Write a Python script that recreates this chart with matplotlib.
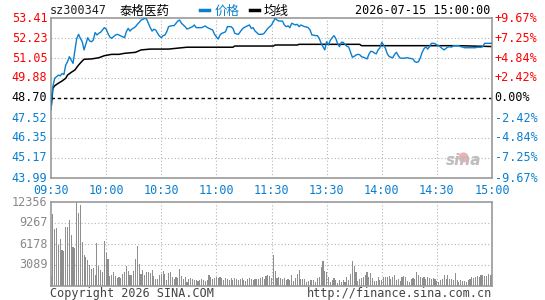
import numpy as np
import matplotlib
matplotlib.use("Agg")
import matplotlib.pyplot as plt

plt.rcParams['font.family'] = ['DejaVu Sans Mono', 'Noto Sans CJK SC']

# ---- data ----
prev_close = 48.70
price_ticks = [53.41, 52.23, 51.05, 49.88, 48.70, 47.52, 46.35, 45.17, 43.99]
pct_labels = ['+9.67%', '+7.25%', '+4.84%', '+2.42%', '0.00%',
              '-2.42%', '-4.84%', '-7.25%', '-9.67%']
time_labels = ['09:30', '10:00', '10:30', '11:00', '11:30',
               '13:30', '14:00', '14:30', '15:00']
vol_ticks = [3089, 6178, 9267, 12356]

prices = [
    48.30, 49.37, 49.86, 49.95, 50.05, 50.00, 50.14, 50.08, 50.64, 50.84,
    51.13, 50.94, 50.74, 51.50, 52.20, 52.45, 52.21, 52.01, 51.53, 51.90,
    52.25, 52.06, 52.01, 52.11, 52.55, 52.41, 52.51, 52.57, 52.70, 52.84,
    52.76, 52.50, 52.30, 52.21, 52.31, 52.40, 52.45, 52.41, 52.35, 52.31,
    52.25, 52.60, 52.80, 52.64, 52.76, 52.82, 52.90, 53.04, 53.15, 53.29,
    53.33, 53.39, 53.35, 53.10, 52.85, 52.64, 52.75, 52.70, 52.51, 52.35,
    52.25, 52.37, 52.41, 52.60, 52.90, 52.94, 52.96, 52.96, 53.10, 53.23,
    53.29, 53.10, 53.00, 52.90, 52.76, 52.80, 52.85, 52.90, 53.00, 52.84,
    52.84, 52.84, 52.84, 52.90, 52.94, 52.85, 52.80, 52.75, 52.70, 52.45,
    52.30, 52.17, 52.41, 52.51, 52.55, 52.60, 52.90, 52.90, 52.90, 52.80,
    52.51, 52.47, 52.45, 52.60, 52.75, 52.84, 52.90, 52.95, 53.00, 52.80,
    52.84, 52.65, 52.55, 52.45, 52.45, 52.45, 52.51, 52.65, 52.80, 52.90,
    53.00, 53.19, 53.39, 53.29, 53.23, 53.23, 53.23, 53.00, 52.90, 52.95,
    52.84, 53.10, 53.05, 53.00, 53.04, 52.90, 53.00, 52.95, 52.90, 52.88,
    52.84, 52.70, 52.41, 52.40, 52.37, 52.37, 52.21, 51.92, 51.72, 51.53,
    52.01, 51.82, 52.10, 52.25, 52.37, 52.20, 51.90, 51.72, 51.98, 51.98,
    51.85, 51.75, 51.70, 51.40, 51.10, 51.15, 51.23, 51.27, 51.25, 51.13,
    51.10, 51.05, 51.00, 51.27, 51.45, 51.43, 51.35, 51.30, 51.53, 51.65,
    51.98, 51.82, 51.63, 51.30, 51.15, 51.10, 51.07, 51.27, 51.39, 51.19,
    51.06, 51.04, 51.04, 51.06, 51.07, 51.04, 51.02, 51.00, 50.84, 50.80,
    50.84, 51.07, 51.39, 51.60, 51.72, 51.58, 51.72, 51.92, 51.92, 51.90,
    51.82, 51.78, 51.70, 51.60, 51.53, 51.63, 51.70, 51.72, 51.69, 51.78,
    51.78, 51.78, 51.78, 51.72, 51.70, 51.66, 51.66, 51.66, 51.66, 51.66,
    51.66, 51.66, 51.69, 51.69, 51.69, 51.72, 51.92, 51.92, 51.92, 51.92,
    51.92,
]

avg_min = [0, 1, 2, 4, 6, 8, 9, 11, 13, 15, 17, 18, 22, 26, 29, 33, 37, 40,
           46, 49, 54, 64, 74, 99, 100, 121, 122, 134, 135, 168, 169, 222, 240]
avg_val = [48.00, 49.27, 49.42, 49.57, 49.70, 49.86, 50.05, 50.21, 50.35,
           50.64, 50.88, 50.98, 51.00, 51.07, 51.19, 51.27, 51.27, 51.33,
           51.39, 51.53, 51.58, 51.58, 51.69, 51.69, 51.76, 51.76, 51.82,
           51.82, 51.86, 51.86, 51.78, 51.78, 51.73]

volumes = [
    1470, 10590, 8385, 8530, 6030, 6910, 5300, 5150, 8680, 8680,
    9710, 7500, 5740, 5590, 12356, 10740, 11915, 6470, 4560, 4270,
    3825, 3090, 2500, 2650, 1620, 6330, 2940, 2350, 2060, 6620,
    4850, 3970, 1470, 1620, 2060, 1470, 1180, 1320, 1180, 1765,
    2060, 2940, 2210, 1620, 1620, 2210, 3970, 5880, 3240, 1765,
    2350, 1620, 2060, 2060, 1910, 2350, 1470, 1030, 1030, 1620,
    1765, 2210, 1765, 880,
    1960, 2110, 1280, 985, 1280, 1130, 2500, 1470, 985, 1280,
    630, 985, 1130, 985, 880, 880, 780, 880, 985, 880,
    780, 880, 1620, 1280, 985, 1130, 1280, 1130, 1280, 1130,
    880, 1130, 985, 880, 1130, 880, 1130, 985, 880, 985,
    1130, 880, 780, 985, 1130, 985, 880, 985, 985, 985,
    1130, 1280, 985, 1470, 1620, 1470, 1130,
    4560, 2200, 1130, 1280, 1130, 985, 1130, 880, 985, 880,
    1620, 780, 1130, 1765, 2350, 985, 985, 985, 630, 780,
    880, 880, 880, 630, 1130, 1280, 2750, 3720, 2250, 2110,
    1280, 630, 880, 1130, 880, 490, 880, 630, 880, 630,
    1280, 880, 1765, 3720, 2940, 2110, 780, 985, 1130, 1280,
    1620, 2110, 1280, 1960, 1130, 780, 780, 1280, 880, 880,
    1280, 1280, 1280, 1470, 985, 1280, 1620, 880, 985, 780,
    1280, 1470, 1280, 780, 630, 985, 1130, 985, 2110, 1620,
    1280, 1130, 1280, 985, 1280, 1130, 985, 1130, 985, 780,
    630, 880, 985, 1620, 985, 1620, 985, 985, 880, 1960,
    880, 630, 880, 780, 780, 630, 880, 985, 1280, 1130,
    1280, 1470, 1280, 1620, 1620, 1470, 1470, 1765, 1620, 1765,
]

RED = '#ff0000'
BLUE = '#0a7fd0'
GRAY = '#999999'
GRID = '#b4b4b4'

fig = plt.figure(figsize=(5.45, 3.0), dpi=100)
fig.patch.set_facecolor('white')

L, W = 51 / 545, 441 / 545
ax = fig.add_axes([L, 1 - 178 / 300, W, 160 / 300])
axv = fig.add_axes([L, 1 - 286 / 300, W, 84 / 300])

for a in (ax, axv):
    for s in a.spines.values():
        s.set_color(GRAY)
        s.set_linewidth(1.2)
    a.set_xlim(0, 240)
    a.set_xticks([])
    a.set_yticks([])
    for k in range(1, 8):
        a.axvline(k * 30, color=GRID, lw=0.8, ls=(0, (1, 2)), zorder=0)

ax.set_ylim(price_ticks[-1], price_ticks[0])
for p in price_ticks[1:-1]:
    if p == prev_close:
        ax.axhline(p, color='black', lw=1.0, ls=(0, (2.5, 2)), zorder=1)
    else:
        ax.axhline(p, color=GRID, lw=0.8, ls=(0, (1, 2)), zorder=0)

ax.plot(np.arange(len(prices)), prices, color=BLUE, lw=1.0, zorder=3)
ax.plot(avg_min, avg_val, color='black', lw=1.1, zorder=2)

fs = 8.5
for p, lab in zip(price_ticks, pct_labels):
    if p > prev_close:
        c = RED
    elif p < prev_close:
        c = BLUE
    else:
        c = 'black'
    ax.text(-0.008, p, f'{p:.2f}', transform=ax.get_yaxis_transform(),
            ha='right', va='center', color=c, fontsize=fs)
    ax.text(1.006, p, lab, transform=ax.get_yaxis_transform(),
            ha='left', va='center', color=c, fontsize=fs)

for i, lab in enumerate(time_labels):
    ax.text(i * 30, -0.035, lab, transform=ax.get_xaxis_transform(),
            ha='center', va='top', color=BLUE, fontsize=fs)

# watermark
ax.text(0.975, 0.06, 'sina', transform=ax.transAxes, ha='right', va='bottom',
        color='#bdbdbd', fontsize=11, style='italic', weight='bold',
        family='DejaVu Sans')
ax.scatter([0.935], [0.13], transform=ax.transAxes, s=40, color='#f2b0b0',
           zorder=1)

axv.set_ylim(0, vol_ticks[-1])
for v in vol_ticks[:-1]:
    axv.axhline(v, color=GRID, lw=0.8, ls=(0, (1, 2)), zorder=0)
axv.bar(np.arange(len(volumes)), volumes, width=0.6, color='#8f8f8f',
        linewidth=0, antialiased=False, zorder=2)
for v in vol_ticks:
    axv.text(-0.008, v, str(v), transform=axv.get_yaxis_transform(),
             ha='right', va='center', color='#888888', fontsize=fs)

# header
fig.text(50 / 545, 1 - 11 / 300, 'sz300347', ha='left', va='center',
         fontsize=fs, color='#222222')
fig.text(120 / 545, 1 - 11 / 300, '泰格医药', ha='left', va='center',
         fontsize=fs + 0.5, color='black', family='Noto Sans CJK SC')
fig.add_artist(plt.Line2D([200 / 545, 209 / 545], [1 - 10 / 300] * 2,
                          color=BLUE, lw=2.5))
fig.text(215 / 545, 1 - 11 / 300, '价格', ha='left', va='center',
         fontsize=fs + 0.5, color=BLUE, family='Noto Sans CJK SC')
fig.add_artist(plt.Line2D([250 / 545, 259 / 545], [1 - 10 / 300] * 2,
                          color='black', lw=2.5))
fig.text(264 / 545, 1 - 11 / 300, '均线', ha='left', va='center',
         fontsize=fs + 0.5, color='black', family='Noto Sans CJK SC')
fig.text(490 / 545, 1 - 11 / 300, '2026-07-15 15:00:00', ha='right',
         va='center', fontsize=fs, color='black')

# footer
fig.text(50 / 545, 1 - 293 / 300, 'Copyright 2026 SINA.COM', ha='left',
         va='center', fontsize=fs, color='#444444')
fig.text(492 / 545, 1 - 293 / 300, 'http://finance.sina.com.cn', ha='right',
         va='center', fontsize=fs, color='#444444')

fig.savefig('out.png', dpi=100, facecolor='white')
